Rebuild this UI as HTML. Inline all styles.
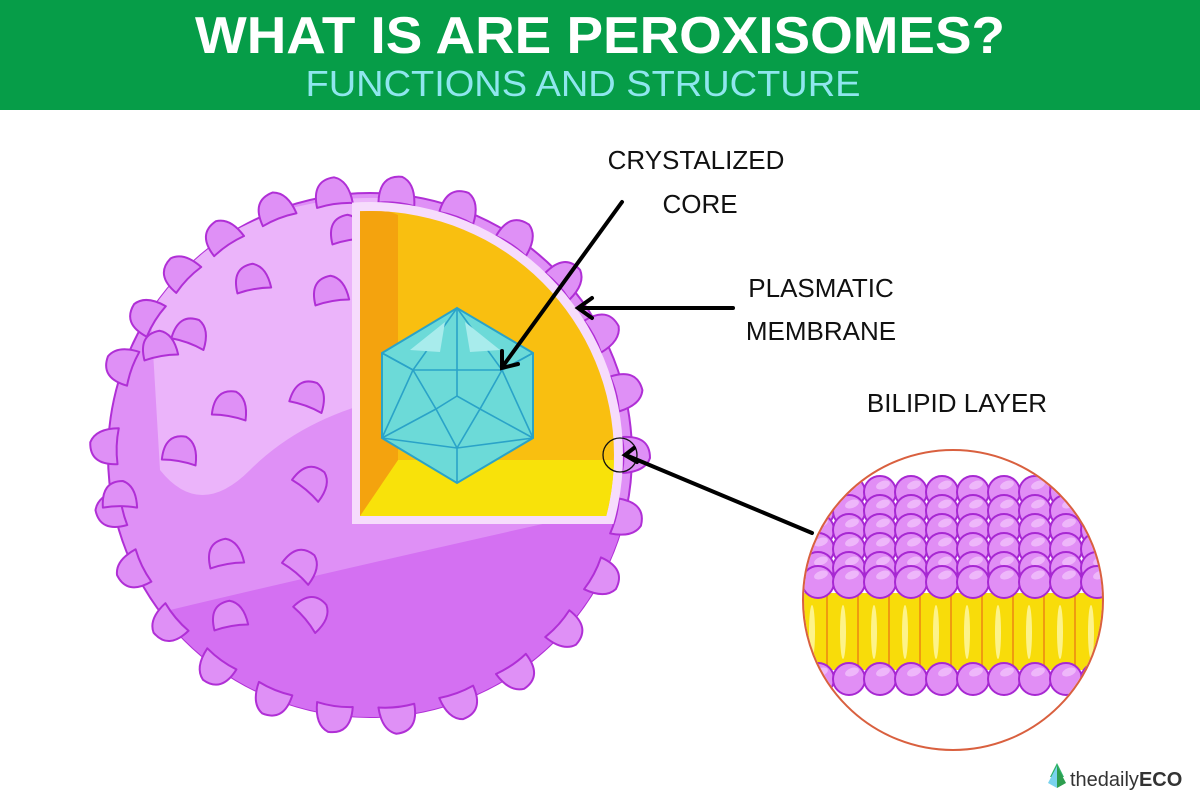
<!DOCTYPE html>
<html><head><meta charset="utf-8"><style>
html,body{margin:0;padding:0;background:#fff;width:1200px;height:800px;overflow:hidden}
svg{display:block}
text{font-family:"Liberation Sans",sans-serif}
</style></head><body>
<svg id="s" width="1200" height="800" viewBox="0 0 1200 800" xmlns="http://www.w3.org/2000/svg">
<defs>
<clipPath id="sph"><circle cx="370" cy="455" r="262"/></clipPath>
<clipPath id="wcut"><rect x="352" y="150" width="400" height="374"/></clipPath>
<clipPath id="ocut"><circle cx="370" cy="455" r="244"/></clipPath>
<clipPath id="lip"><circle cx="953" cy="600" r="149"/></clipPath>
</defs>
<rect x="0" y="0" width="1200" height="110" fill="#069d48"/>
<text x="600" y="53" text-anchor="middle" font-size="52" font-weight="bold" fill="#fff" textLength="810" lengthAdjust="spacingAndGlyphs">WHAT IS ARE PEROXISOMES?</text>
<text x="583" y="96" text-anchor="middle" font-size="36" fill="#8fe6ee" textLength="555" lengthAdjust="spacingAndGlyphs">FUNCTIONS AND STRUCTURE</text>
<circle cx="370" cy="455" r="262" fill="#df90f6" stroke="#b02fd6" stroke-width="2"/>
<g clip-path="url(#sph)">
<path d="M150 300 Q240 195 380 198 L380 400 Q300 420 250 470 Q200 520 160 470Z" fill="#ebb4fa"/>
<path d="M170 610 Q380 560 650 500 L650 760 L100 760Z" fill="#d470f2"/>
</g>
<g id="bumps"></g>
<g id="surf"></g>
<g clip-path="url(#wcut)"><circle cx="370" cy="455" r="253" fill="#f6dcfc"/></g>
<g clip-path="url(#ocut)">
<rect x="360" y="150" width="400" height="366" fill="#f9bf10"/>
<polygon points="360,516 398,460 700,460 700,516" fill="#f8e20a"/>
<polygon points="360,200 398,215 398,460 360,516" fill="#f4a30e"/>
</g>
<polygon points="382,353 457,308 533,353 533,438 457,483 382,438" fill="#6cdad8" stroke="#2aa3c8" stroke-width="2"/>
<g stroke="#2aa3c8" stroke-width="1.6" fill="none">
<polyline points="382,353 413,370 457,308 502,370 533,353"/>
<line x1="413" y1="370" x2="502" y2="370"/>
<line x1="457" y1="308" x2="457" y2="396"/>
<polyline points="413,370 436,409 457,396 480,409 502,370"/>
<polyline points="382,438 436,409 457,448 480,409 533,438"/>
<polyline points="382,353 413,370 382,438"/>
<polyline points="533,353 502,370 533,438"/>
<polyline points="382,438 457,448 533,438"/>
<line x1="457" y1="448" x2="457" y2="483"/>
</g>
<polygon points="410,350 445,322 440,352" fill="#a8ecec"/>
<polygon points="470,352 465,322 500,350" fill="#a8ecec"/>
<circle cx="620" cy="455" r="17" fill="none" stroke="#111" stroke-width="1.3"/>
<g stroke="#000" stroke-width="4" fill="none" stroke-linecap="round">
<line x1="622" y1="202" x2="503" y2="366"/>
<polyline points="502,351 502,368 518,364"/>
<line x1="733" y1="308" x2="580" y2="308"/>
<polyline points="592,298 578,308 592,318"/>
<line x1="812" y1="533" x2="628" y2="456"/>
<polyline points="634,448 625,455 637,462"/>
</g>
<text x="696" y="169" text-anchor="middle" font-size="26" fill="#111">CRYSTALIZED</text>
<text x="700" y="213" text-anchor="middle" font-size="26" fill="#111">CORE</text>
<text x="821" y="297" text-anchor="middle" font-size="26" fill="#111">PLASMATIC</text>
<text x="821" y="340" text-anchor="middle" font-size="26" fill="#111">MEMBRANE</text>
<text x="957" y="412" text-anchor="middle" font-size="26" fill="#111">BILIPID LAYER</text>
<circle cx="953" cy="600" r="150" fill="#fff"/>
<g clip-path="url(#lip)" id="lipid">
<rect x="800" y="593" width="310" height="77" fill="#f8dc0a"/>
</g>
<circle cx="953" cy="600" r="150" fill="none" stroke="#d9603f" stroke-width="2"/>
<polygon points="1057,763 1050,777 1064,777" fill="#2fb36a"/>
<polygon points="1057,766 1048,783 1057,788" fill="#7ad3ee"/>
<polygon points="1057,766 1066,783 1057,788" fill="#2e9e4f"/>
<text x="1070" y="786" font-size="20" fill="#333">thedaily<tspan font-weight="bold">ECO</tspan></text>
</svg>
<script>
var NS="http://www.w3.org/2000/svg";
function el(t,a,p){var e=document.createElementNS(NS,t);for(var k in a)e.setAttribute(k,a[k]);p.appendChild(e);return e}
function bump(p,x,y,ang,s){
 var g=el("g",{transform:"translate("+x+","+y+") rotate("+ang+") scale("+s+")"},p);
 el("path",{d:"M-18 8 Q-20 -20 3 -20 Q17 -15 18 8 Q0 5 -18 8Z",fill:"#df90f6",stroke:"#b02fd6","stroke-width":2/s,"stroke-linejoin":"round"},g);
}
var b=document.getElementById("bumps");
var angs=[200,212,224,236,249,262,276,290,304,318,332,346,0,14,28,42,56,70,84,98,112,126,140,154,168,182];
angs.forEach(function(a){var r=a*Math.PI/180;var R=260;bump(b,370+R*Math.cos(r),455+R*Math.sin(r),a+90,1)});
var s=document.getElementById("surf");
[[348,234,-10],[253,283,-10],[331,295,-10],[190,337,20],[230,410,10],[308,400,20],[180,455,10],[310,485,40],[226,558,-10],[300,568,40],[310,615,50],[230,620,-10],[120,500,0],[160,350,-10]].forEach(function(p){bump(s,p[0],p[1],p[2],0.95)});
var L=document.getElementById("lipid");
function ball(x,y,r){el("circle",{cx:x,cy:y,r:r,fill:"#e18ef5",stroke:"#a728d2","stroke-width":2},L);el("ellipse",{cx:x+3,cy:y-7,rx:r*0.45,ry:r*0.25,fill:"#eeb7fa",transform:"rotate(-20 "+(x+3)+" "+(y-7)+")"},L)}
for(var i=0;i<11;i++){var x=812+i*31;el("line",{x1:x+15,y1:593,x2:x+15,y2:670,stroke:"#ef9a10","stroke-width":2},L);el("ellipse",{cx:x,cy:632,rx:3,ry:27,fill:"#fdf38a"},L)}
for(var row=0;row<5;row++){for(var i=0;i<11;i++){ball(818+i*31,492+row*19,16)}}
for(var i=0;i<11;i++){ball(818+i*31,582,16)}
for(var i=0;i<11;i++){ball(818+i*31,679,16)}
</script>
</body></html>
